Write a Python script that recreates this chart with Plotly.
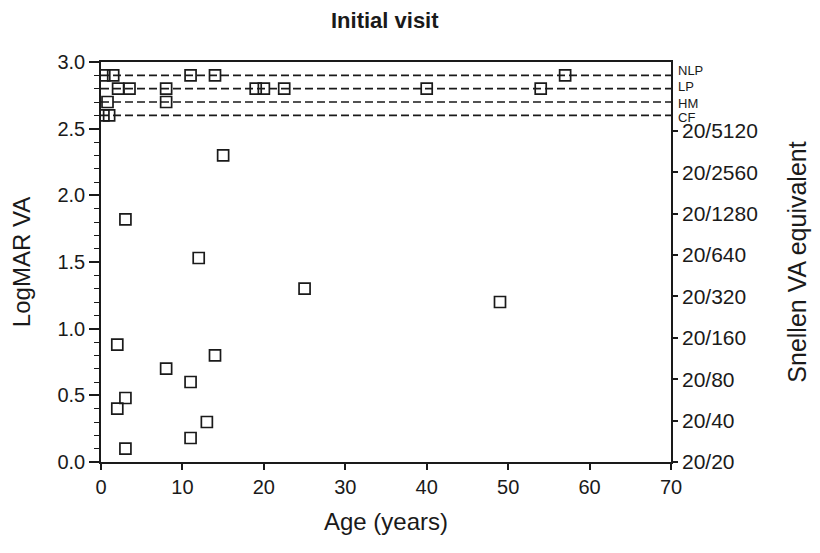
import plotly.graph_objects as go

# Data
ages = [15, 3, 12, 25, 49, 2, 14, 8, 11, 3, 2, 13, 11, 3,
        0.4, 1.5, 11, 14, 57,
        2.1, 3.5, 8, 19, 20, 22.5, 40, 54,
        0.8, 8,
        0.3, 1.0]
logmar = [2.3, 1.82, 1.53, 1.3, 1.2, 0.88, 0.8, 0.7, 0.6, 0.48, 0.4, 0.3, 0.18, 0.1,
          2.9, 2.9, 2.9, 2.9, 2.9,
          2.8, 2.8, 2.8, 2.8, 2.8, 2.8, 2.8, 2.8,
          2.7, 2.7,
          2.6, 2.6]

category_labels = ["NLP", "LP", "HM", "CF"]
category_values = [2.9, 2.8, 2.7, 2.6]
category_yshift = [5, 2, -1, -2]

snellen_vals = [0, 0.3, 0.6, 0.9, 1.2, 1.5, 1.8, 2.1, 2.4]
snellen_text = ["20/20", "20/40", "20/80", "20/160", "20/320", "20/640",
                "20/1280", "20/2560", "20/5120"]

FONT = "Liberation Sans, Arial, sans-serif"
INK = "#1a1a1a"

fig = go.Figure()
fig.add_trace(go.Scatter(
    x=ages, y=logmar, mode="markers",
    marker=dict(symbol="square-open", size=11, color=INK, line=dict(width=1.7, color=INK)),
    showlegend=False, hoverinfo="x+y"))
# invisible trace to anchor right axis
fig.add_trace(go.Scatter(x=[None], y=[None], yaxis="y2", showlegend=False, hoverinfo="skip"))

for v in category_values:
    fig.add_shape(type="line", xref="paper", x0=0, x1=1, yref="y", y0=v, y1=v,
                  line=dict(color=INK, width=1.6, dash="8px,4px"), layer="below")

for lab, v, ys in zip(category_labels, category_values, category_yshift):
    fig.add_annotation(text=lab, xref="paper", x=1, yref="y", y=v, xanchor="left",
                       yanchor="middle", xshift=5, yshift=ys, showarrow=False,
                       font=dict(family=FONT, size=13, color=INK))

fig.update_layout(
    width=812, height=537,
    margin=dict(l=93, r=149, t=54, b=83),
    paper_bgcolor="white", plot_bgcolor="white",
    font=dict(family=FONT, color=INK),
    title=dict(text="<b>Initial visit</b>", x=0.464, xref="container", xanchor="center",
               y=0.978, yref="container", yanchor="middle",
               font=dict(family=FONT, size=22, color=INK)),
    xaxis=dict(range=[0, 70], tickmode="array", tickvals=[0, 10, 20, 30, 40, 50, 60, 70],
               ticks="outside", ticklen=6, tickwidth=1.5, tickcolor=INK,
               showline=True, linecolor=INK, linewidth=1.6, mirror=True,
               showgrid=False, zeroline=False,
               tickfont=dict(size=20, family=FONT, color=INK),
               title=dict(text="Age (years)", font=dict(size=24, family=FONT, color=INK), standoff=16)),
    yaxis=dict(range=[0, 3.0], tickmode="array", tickvals=[0, 0.5, 1.0, 1.5, 2.0, 2.5, 3.0],
               ticktext=["0.0", "0.5", "1.0", "1.5", "2.0", "2.5", "3.0"],
               ticks="outside", ticklen=10, tickwidth=1.5, tickcolor=INK,
               minor=dict(dtick=0.1, tick0=0, ticks="outside", ticklen=5, tickwidth=1.3, tickcolor=INK),
               showline=True, linecolor=INK, linewidth=1.6,
               showgrid=False, zeroline=False,
               tickfont=dict(size=20, family=FONT, color=INK),
               title=dict(text="LogMAR VA", font=dict(size=24, family=FONT, color=INK), standoff=20)),
    yaxis2=dict(range=[0, 2.9], overlaying="y", side="right", anchor="x",
                tickmode="array", tickvals=snellen_vals, ticktext=snellen_text,
                ticks="outside", ticklen=5, tickwidth=1.5, tickcolor=INK,
                showline=True, linecolor=INK, linewidth=1.6,
                showgrid=False, zeroline=False,
                tickfont=dict(size=21, family=FONT, color=INK),
                title=dict(text="Snellen VA equivalent", font=dict(size=25, family=FONT, color=INK), standoff=32)),
)

fig.write_html("out.html")
